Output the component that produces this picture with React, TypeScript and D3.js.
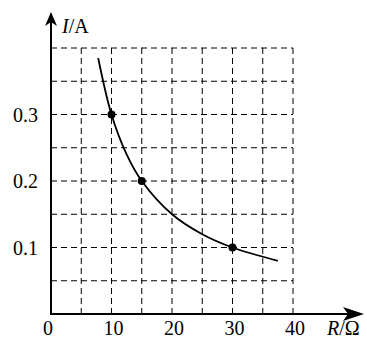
import React from 'react';
import * as d3 from 'd3';

// R (Ω) ticks and I (A) ticks
const xTicks = [0, 10, 20, 30, 40];
const yTicks = [0.1, 0.2, 0.3];
const xGrid = [5, 10, 15, 20, 25, 30, 35, 40];
const yGrid = [0.05, 0.1, 0.15, 0.2, 0.25, 0.3, 0.35, 0.4];

// curve
const curveR = [7.8, 10, 12.5, 15, 20, 25, 30, 37.5];
const curveI = [0.385, 0.3, 0.24, 0.2, 0.15, 0.12, 0.1, 0.08];

// measured points
const pointR = [10, 15, 30];
const pointI = [0.3, 0.2, 0.1];

const W = 367;
const H = 340;

const App = () => {
  const x = d3.scaleLinear().domain([0, 40]).range([51, 293]);
  const y = d3.scaleLinear().domain([0, 0.4]).range([314, 48]);

  const line = d3.line<number>()
    .x((_, i) => x(curveR[i]))
    .y((d) => y(d))
    .curve(d3.curveCatmullRom.alpha(0.5));

  const font = '"Liberation Serif", "Times New Roman", serif';

  return (
    <svg width={W} height={H} style={{ position: 'absolute', left: 0, top: 0, background: '#fff' }}>
      {/* grid */}
      <g stroke="#000" strokeWidth={1} strokeDasharray="6,4">
        {xGrid.map((v) => (
          <line key={'gx' + v} x1={x(v)} x2={x(v)} y1={y(0)} y2={y(0.4)} />
        ))}
        {yGrid.map((v) => (
          <line key={'gy' + v} x1={x(0)} x2={x(40)} y1={y(v)} y2={y(v)} />
        ))}
      </g>

      {/* curve */}
      <path d={line(curveI) || ''} fill="none" stroke="#000" strokeWidth={1.8} />
      {pointR.map((r, i) => (
        <circle key={'p' + r} cx={x(r)} cy={y(pointI[i])} r={4} fill="#000" />
      ))}

      {/* axes */}
      <line x1={x(0)} x2={x(0)} y1={y(0) + 1} y2={22} stroke="#000" strokeWidth={2} />
      <path d={`M${x(0)},12 L${x(0) - 6},26 L${x(0)},22 L${x(0) + 6},26 Z`} fill="#000" />
      <line x1={x(0) - 1} x2={350} y1={y(0)} y2={y(0)} stroke="#000" strokeWidth={2} />
      <path d={`M364,${y(0)} L343,${y(0) - 7} L348,${y(0)} L343,${y(0) + 7} Z`} fill="#000" />

      {/* labels */}
      <g fontFamily={font} fontSize={20} fill="#000">
        {yTicks.map((v) => (
          <text key={'yt' + v} x={38} y={y(v) + 7} textAnchor="end">{v.toFixed(1)}</text>
        ))}
        {xTicks.map((v) => (
          <text key={'xt' + v} x={v === 0 ? x(v) - 3 : x(v) + 2} y={335} textAnchor="middle">{v}</text>
        ))}
        <text x={62} y={33}><tspan fontStyle="italic">I</tspan>/A</text>
        <text x={327} y={335}><tspan fontStyle="italic">R</tspan>/Ω</text>
      </g>
    </svg>
  );
};

export default App;
